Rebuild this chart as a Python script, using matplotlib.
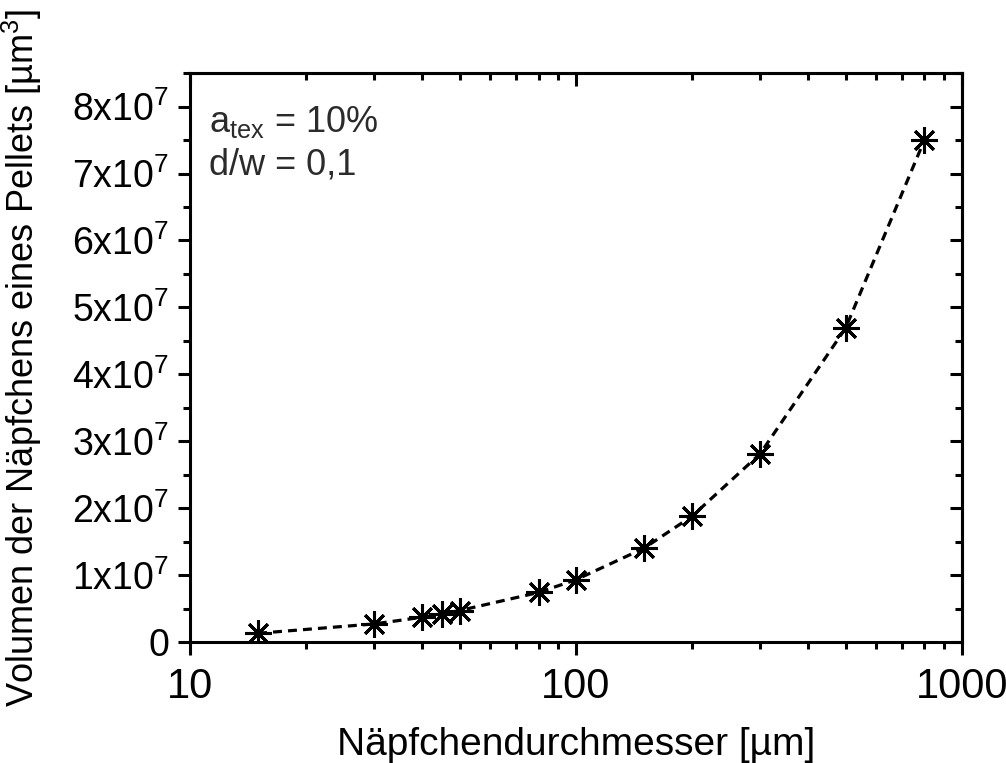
import matplotlib
matplotlib.use("Agg")
import matplotlib.pyplot as plt
from matplotlib.ticker import FixedLocator, FuncFormatter, LogLocator, NullFormatter, MultipleLocator

plt.rcParams['font.family'] = ['Liberation Sans', 'DejaVu Sans']
plt.rcParams['mathtext.fontset'] = 'custom'
plt.rcParams['mathtext.rm'] = 'Liberation Sans'
plt.rcParams['mathtext.it'] = 'Liberation Sans:italic'

# Cup diameter [µm] and cup volume per pellet [µm³]
durchmesser = [15, 30, 40, 45, 50, 80, 100, 150, 200, 300, 500, 800]
volumen = [1.3e6, 2.7e6, 3.7e6, 4.2e6, 4.7e6, 7.4e6, 9.3e6, 1.40e7,
           1.88e7, 2.81e7, 4.69e7, 7.50e7]

x_ticks = [10, 100, 1000]
x_ticklabels = ["10", "100", "1000"]
y_ticks = [0, 1e7, 2e7, 3e7, 4e7, 5e7, 6e7, 7e7, 8e7]

LW = 2.2

fig = plt.figure(figsize=(10.06, 7.63), dpi=100)
ax = fig.add_axes([0.189, 0.1586, 0.767, 0.7455])

ax.plot(durchmesser, volumen, linestyle=(0, (2.8, 1.9)), color='black', lw=2.3,
        zorder=2)
ax.plot(durchmesser, volumen, linestyle='none', marker=(8, 2, 0), markersize=19,
        markeredgewidth=2.2, color='black', zorder=3)

ax.set_xscale('log')
ax.set_xlim(10, 1000)
ax.set_ylim(0, 8.5e7)

ax.xaxis.set_major_locator(FixedLocator(x_ticks))
ax.xaxis.set_major_formatter(FuncFormatter(
    lambda v, p: x_ticklabels[x_ticks.index(round(v))] if round(v) in x_ticks else ""))
ax.xaxis.set_minor_locator(LogLocator(base=10, subs=range(2, 10)))
ax.xaxis.set_minor_formatter(NullFormatter())

def ylab(v, p):
    n = int(round(v / 1e7))
    if n == 0:
        return "0"
    return f"{n}x10$^{{7}}$"

ax.yaxis.set_major_locator(FixedLocator(y_ticks))
ax.yaxis.set_major_formatter(FuncFormatter(ylab))
ax.yaxis.set_minor_locator(MultipleLocator(5e6))

for s in ax.spines.values():
    s.set_linewidth(LW)

ax.tick_params(which='both', width=LW, colors='black')
ax.tick_params(axis='x', which='major', length=9, direction='out', pad=9,
               labelsize=30)
ax.tick_params(axis='x', which='minor', length=5, direction='out')
ax.tick_params(axis='y', which='major', length=9, direction='out', pad=6,
               labelsize=27)
ax.tick_params(axis='y', which='minor', length=5, direction='out')

# Mirrored inward ticks on top and right
sec_x = ax.secondary_xaxis('top')
sec_x.set_xscale('log')
sec_x.xaxis.set_major_locator(FixedLocator(x_ticks))
sec_x.xaxis.set_minor_locator(LogLocator(base=10, subs=range(2, 10)))
sec_x.xaxis.set_major_formatter(NullFormatter())
sec_x.xaxis.set_minor_formatter(NullFormatter())
sec_x.tick_params(which='major', direction='in', length=9, width=LW)
sec_x.tick_params(which='minor', direction='in', length=5, width=LW)
sec_x.spines['top'].set_linewidth(LW)

sec_y = ax.secondary_yaxis('right')
sec_y.yaxis.set_major_locator(FixedLocator(y_ticks))
sec_y.yaxis.set_minor_locator(MultipleLocator(5e6))
sec_y.yaxis.set_major_formatter(NullFormatter())
sec_y.yaxis.set_minor_formatter(NullFormatter())
sec_y.tick_params(which='major', direction='in', length=9, width=LW)
sec_y.tick_params(which='minor', direction='in', length=5, width=LW)
sec_y.spines['right'].set_linewidth(LW)

ax.set_xlabel("Näpfchendurchmesser [µm]", fontsize=28)
ax.xaxis.set_label_coords(0.5, -0.149)
ax.set_ylabel("Volumen der Näpfchens eines Pellets [µm$^{3}$]", fontsize=26)
ax.yaxis.set_label_coords(-0.189, 0.5)

ax.text(0.025, 0.946, "a$_{\\mathregular{tex}}$ = 10%\nd/w = 0,1",
        transform=ax.transAxes, fontsize=26, color='#2b2b2b', va='top',
        ha='left', linespacing=1.3)

fig.savefig("out.png", dpi=100)
